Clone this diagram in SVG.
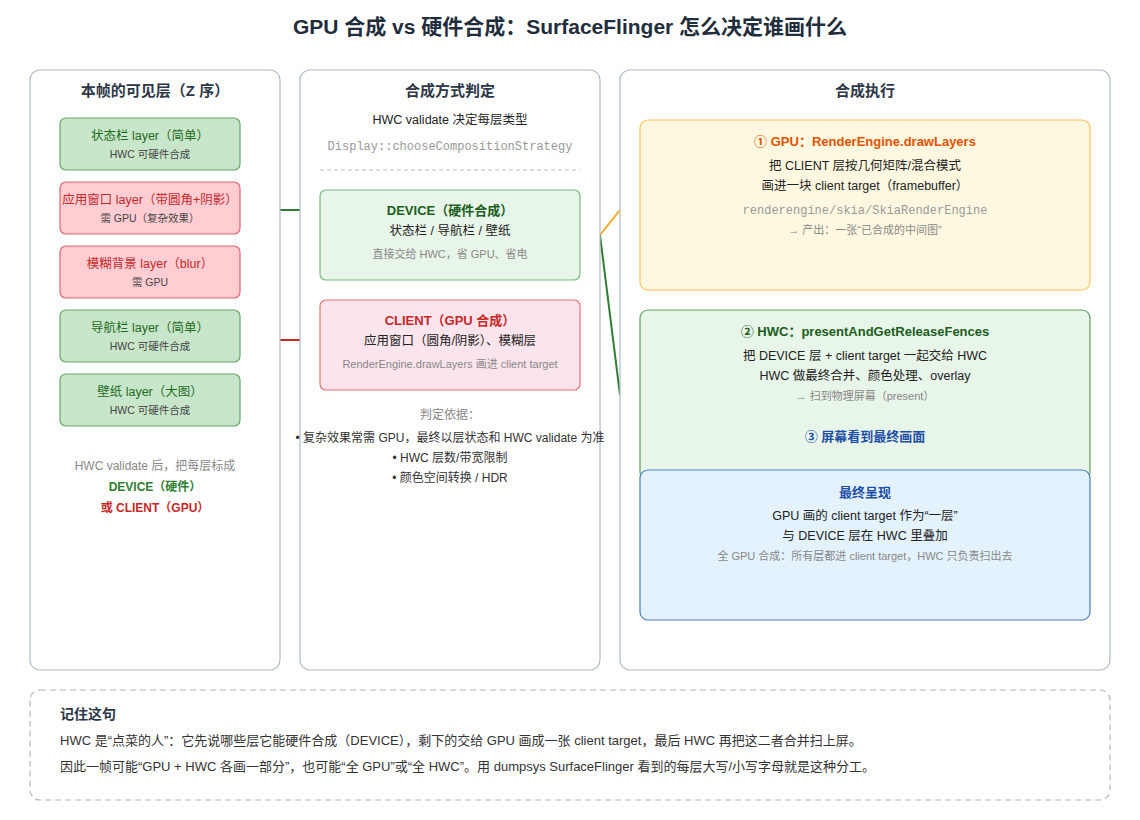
<svg xmlns="http://www.w3.org/2000/svg" width="1140" height="820" viewBox="0 0 1140 820">
<style>
text{font-family:"Liberation Sans","Noto Sans CJK SC",sans-serif;text-anchor:middle}
.panel{fill:#fff;stroke:#b0bcc8;stroke-width:1.2}
.h{font-size:15px;font-weight:bold;fill:#2d3748}
.g{fill:#c8e6c9;stroke:#6aa56e;stroke-width:1.2}
.r{fill:#ffcdd2;stroke:#e06670;stroke-width:1.2}
.t1g{font-size:12.5px;fill:#1e6b24}
.t1r{font-size:12.5px;fill:#c62828}
.t2{font-size:10.5px;fill:#444}
.b{font-size:12.5px;fill:#222}
.s{font-size:11px;fill:#888}
.mono{font-family:"Liberation Mono","DejaVu Sans Mono",monospace;font-size:12px;fill:#999}
</style>
<rect width="1140" height="820" fill="#fff"/>
<text x="570" y="34" style="font-size:21px;font-weight:bold;fill:#1f2d3d">GPU 合成 vs 硬件合成：SurfaceFlinger 怎么决定谁画什么</text>

<g id="connectors" stroke-width="2" fill="none">
<line x1="280" y1="210" x2="300" y2="210" stroke="#2e7d32"/>
<line x1="280" y1="340" x2="300" y2="340" stroke="#c62828"/>
<line x1="600" y1="235" x2="620" y2="210" stroke="#f5a623"/>
<line x1="600" y1="235" x2="620" y2="395" stroke="#2e7d32"/>
</g>

<g id="panel-left">
<rect class="panel" x="30" y="70" width="250" height="600" rx="10"/>
<text class="h" x="155" y="96">本帧的可见层（Z 序）</text>
</g>
<g id="layer-status"><rect class="g" x="60" y="118" width="180" height="52" rx="6"/><text class="t1g" x="150" y="140">状态栏 layer（简单）</text><text class="t2" x="150" y="158">HWC 可硬件合成</text></g>
<g id="layer-app"><rect class="r" x="60" y="182" width="180" height="52" rx="6"/><text class="t1r" x="150" y="204">应用窗口 layer（带圆角+阴影）</text><text class="t2" x="150" y="222">需 GPU（复杂效果）</text></g>
<g id="layer-blur"><rect class="r" x="60" y="246" width="180" height="52" rx="6"/><text class="t1r" x="150" y="268">模糊背景 layer（blur）</text><text class="t2" x="150" y="286">需 GPU</text></g>
<g id="layer-nav"><rect class="g" x="60" y="310" width="180" height="52" rx="6"/><text class="t1g" x="150" y="332">导航栏 layer（简单）</text><text class="t2" x="150" y="350">HWC 可硬件合成</text></g>
<g id="layer-wall"><rect class="g" x="60" y="374" width="180" height="52" rx="6"/><text class="t1g" x="150" y="396">壁纸 layer（大图）</text><text class="t2" x="150" y="414">HWC 可硬件合成</text></g>
<g id="left-note">
<text x="155" y="470" style="font-size:12px;fill:#888">HWC validate 后，把每层标成</text>
<text x="155" y="491" style="font-size:12px;font-weight:bold;fill:#2e7d32">DEVICE（硬件）</text>
<text x="155" y="512" style="font-size:12px;font-weight:bold;fill:#c62828">或 CLIENT（GPU）</text>
</g>

<g id="panel-mid">
<rect class="panel" x="300" y="70" width="300" height="600" rx="10"/>
<text class="h" x="450" y="96">合成方式判定</text>
<text class="b" x="450" y="124">HWC validate 决定每层类型</text>
<text class="mono" x="450" y="150">Display::chooseCompositionStrategy</text>
<line x1="320" y1="170" x2="580" y2="170" stroke="#bbb" stroke-dasharray="4 3"/>
</g>
<g id="device">
<rect x="320" y="190" width="260" height="90" rx="6" fill="#e8f5e9" stroke="#7cb87f" stroke-width="1.2"/>
<text x="450" y="215" style="font-size:13px;font-weight:bold;fill:#1b5e20">DEVICE（硬件合成）</text>
<text class="b" x="450" y="235">状态栏 / 导航栏 / 壁纸</text>
<text class="s" x="450" y="258">直接交给 HWC，省 GPU、省电</text>
</g>
<g id="client">
<rect x="320" y="300" width="260" height="90" rx="6" fill="#fce4ec" stroke="#e57373" stroke-width="1.2"/>
<text x="450" y="325" style="font-size:13px;font-weight:bold;fill:#c62828">CLIENT（GPU 合成）</text>
<text class="b" x="450" y="345">应用窗口（圆角/阴影）、模糊层</text>
<text class="s" x="450" y="368">RenderEngine.drawLayers 画进 client target</text>
</g>
<g id="criteria">
<text x="450" y="419" style="font-size:12px;fill:#888">判定依据：</text>
<text x="450" y="442" style="font-size:12px;fill:#333">• 复杂效果常需 GPU，最终以层状态和 HWC validate 为准</text>
<text x="450" y="462" style="font-size:12px;fill:#333">• HWC 层数/带宽限制</text>
<text x="450" y="482" style="font-size:12px;fill:#333">• 颜色空间转换 / HDR</text>
</g>

<g id="panel-right">
<rect class="panel" x="620" y="70" width="490" height="600" rx="10"/>
<text class="h" x="865" y="96">合成执行</text>
</g>
<g id="step-gpu">
<rect x="640" y="120" width="450" height="170" rx="8" fill="#fff8e1" stroke="#ffc25c" stroke-width="1.2"/>
<text x="865" y="146" style="font-size:13px;font-weight:bold;fill:#e65100">① GPU：RenderEngine.drawLayers</text>
<text class="b" x="865" y="170">把 CLIENT 层按几何矩阵/混合模式</text>
<text class="b" x="865" y="190">画进一块 client target（framebuffer）</text>
<text class="mono" x="865" y="214">renderengine/skia/SkiaRenderEngine</text>
<text class="s" x="865" y="234">→ 产出：一张“已合成的中间图”</text>
</g>
<g id="step-hwc">
<rect x="640" y="310" width="450" height="170" rx="8" fill="#e8f5e9" stroke="#5f9e63" stroke-width="1.2"/>
<text x="865" y="336" style="font-size:13px;font-weight:bold;fill:#1b5e20">② HWC：presentAndGetReleaseFences</text>
<text class="b" x="865" y="360">把 DEVICE 层 + client target 一起交给 HWC</text>
<text class="b" x="865" y="380">HWC 做最终合并、颜色处理、overlay</text>
<text class="s" x="865" y="400">→ 扫到物理屏幕（present）</text>
<text x="865" y="441" style="font-size:13px;font-weight:bold;fill:#1e4fa8">③ 屏幕看到最终画面</text>
</g>
<g id="final">
<rect x="640" y="470" width="450" height="150" rx="8" fill="#e3f2fd" stroke="#4a7fc8" stroke-width="1.2"/>
<text x="865" y="497" style="font-size:13px;font-weight:bold;fill:#1e4fa8">最终呈现</text>
<text class="b" x="865" y="520">GPU 画的 client target 作为“一层”</text>
<text class="b" x="865" y="540">与 DEVICE 层在 HWC 里叠加</text>
<text class="s" x="865" y="560">全 GPU 合成：所有层都进 client target，HWC 只负责扫出去</text>
</g>

<g id="summary">
<rect x="30" y="690" width="1080" height="110" rx="10" fill="#fff" stroke="#b0bcc8" stroke-width="1.2" stroke-dasharray="6 4"/>
<text x="60" y="719" style="text-anchor:start;font-size:14px;font-weight:bold;fill:#2d3748">记住这句</text>
<text x="60" y="745" style="text-anchor:start;font-size:13px;fill:#333">HWC 是“点菜的人”：它先说哪些层它能硬件合成（DEVICE），剩下的交给 GPU 画成一张 client target，最后 HWC 再把这二者合并扫上屏。</text>
<text x="60" y="771" style="text-anchor:start;font-size:13px;fill:#333">因此一帧可能“GPU + HWC 各画一部分”，也可能“全 GPU”或“全 HWC”。用 dumpsys SurfaceFlinger 看到的每层大写/小写字母就是这种分工。</text>
</g>
</svg>
